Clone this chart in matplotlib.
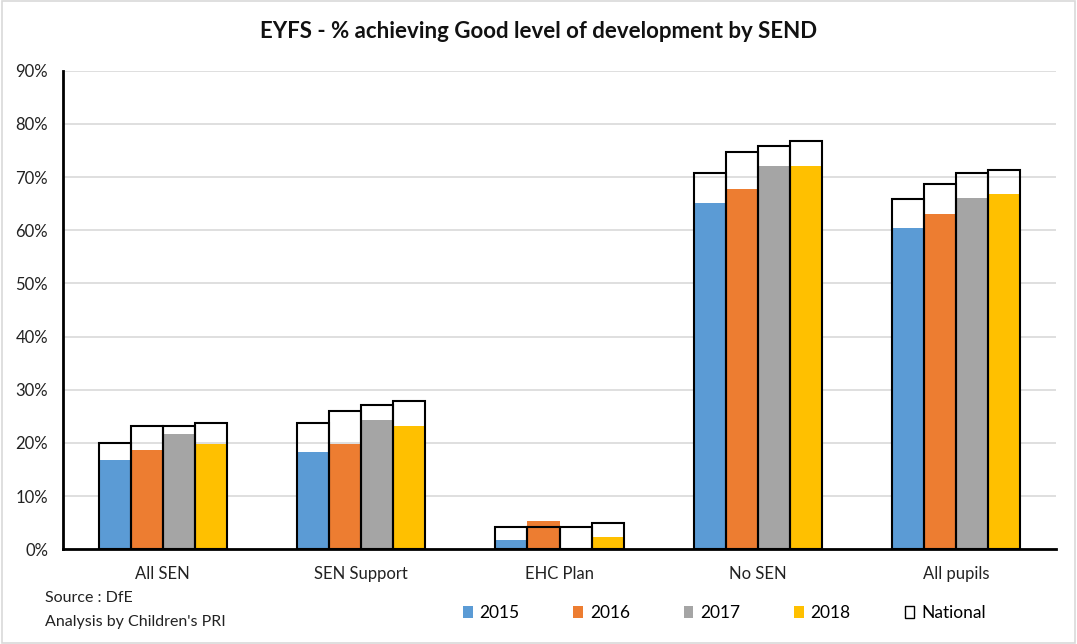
import numpy as np
import matplotlib
matplotlib.use("Agg")
import matplotlib.pyplot as plt
from matplotlib.patches import Patch, Rectangle

plt.rcParams['font.family'] = ['Lato', 'DejaVu Sans']

categories = ["All SEN", "SEN Support", "EHC Plan", "No SEN", "All pupils"]
years = ["2015", "2016", "2017", "2018"]
local_2015 = [16.8, 18.3, 1.7, 65.2, 60.5]
local_2016 = [18.6, 19.8, 5.4, 67.7, 63.1]
local_2017 = [21.7, 24.3, np.nan, 72.0, 66.0]
local_2018 = [19.8, 23.2, 2.4, 72.1, 66.9]
national_2015 = [20.0, 23.8, 4.1, 70.7, 65.9]
national_2016 = [23.1, 26.0, 4.1, 74.7, 68.7]
national_2017 = [23.1, 27.1, 4.1, 75.9, 70.7]
national_2018 = [23.8, 27.9, 5.0, 76.8, 71.3]
colors = ["#5b9bd5", "#ed7d31", "#a5a5a5", "#ffc000"]
yticks = [0, 10, 20, 30, 40, 50, 60, 70, 80, 90]

local = [local_2015, local_2016, local_2017, local_2018]
national = [national_2015, national_2016, national_2017, national_2018]

fig = plt.figure(figsize=(10.77, 6.44), dpi=100)
fig.patch.set_facecolor("white")
ax = fig.add_axes([63.3/1077, 1-549.3/644, (1055.7-63.3)/1077, (549.3-70.7)/644])

x = np.arange(len(categories))
w = 0.645/4
for i in range(4):
    pos = x + (i - 1.5) * w
    ax.bar(pos, local[i], width=w, color=colors[i], edgecolor="none", zorder=2)
    ax.bar(pos, national[i], width=w, facecolor="none", edgecolor="black",
           linewidth=1.5, zorder=3)

ax.set_xlim(-0.5, 4.5)
ax.set_ylim(0, 90)
ax.set_yticks(yticks)
ax.set_yticklabels([f"{t}%" for t in yticks], fontsize=12, color="#222222")
ax.set_xticks(x)
ax.set_xticklabels(categories, fontsize=12, color="#222222")
ax.tick_params(axis="both", length=0)
ax.tick_params(axis="x", pad=12)
ax.tick_params(axis="y", pad=11)
ax.yaxis.grid(True, color="#d9d9d9", linewidth=1.2, zorder=0)
ax.set_axisbelow(True)
for s in ["top", "right"]:
    ax.spines[s].set_visible(False)
for s in ["left", "bottom"]:
    ax.spines[s].set_linewidth(2)
    ax.spines[s].set_color("black")

fig.text(0.5, 1-32/644, "EYFS - % achieving Good level of development by SEND",
         ha="center", va="center", fontsize=16, fontweight="bold", color="#111111")

fig.text(45/1077, 1-598/644, "Source : DfE", ha="left", va="center", fontsize=11.5, color="#222222")
fig.text(45/1077, 1-622/644, "Analysis by Children's PRI", ha="left", va="center", fontsize=11.5, color="#222222")

handles = [Patch(facecolor=c, edgecolor="none") for c in colors]
handles.append(Patch(facecolor="white", edgecolor="black", linewidth=1))
labels = years + ["National"]
fig.legend(handles, labels, loc="center left", bbox_to_anchor=(463/1077, 1-613/644),
           ncol=5, frameon=False, fontsize=12.5, handlelength=0.55, handleheight=0.75,
           handletextpad=0.4, columnspacing=3.1, borderaxespad=0, borderpad=0)

fig.add_artist(Rectangle((0.002, 0.002), 0.996, 0.996, transform=fig.transFigure,
                         fill=False, edgecolor="#d9d9d9", linewidth=1.2))

fig.savefig("out.png", dpi=100)
